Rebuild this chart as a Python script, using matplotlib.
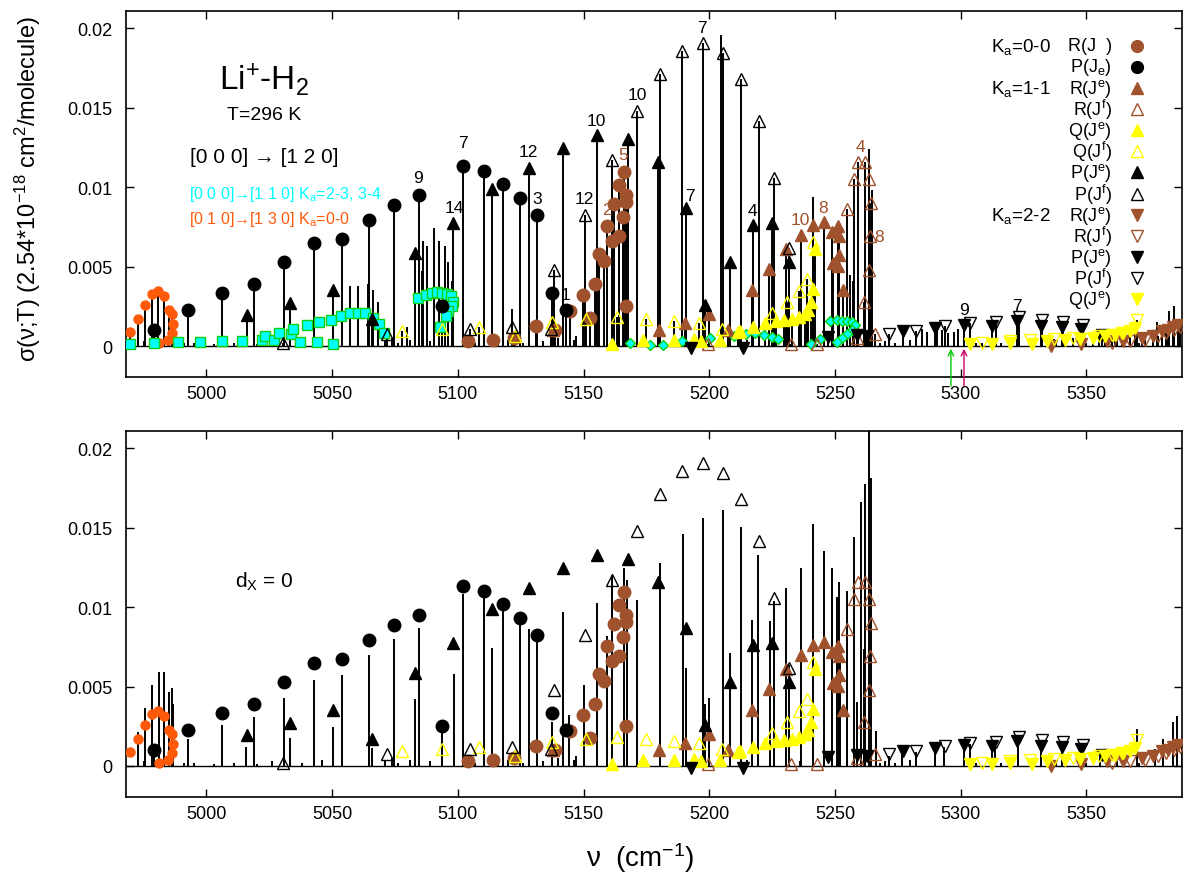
import numpy as np
import matplotlib
matplotlib.use("Agg")
import matplotlib.pyplot as plt

plt.rcParams['font.family'] = ['Liberation Sans', 'DejaVu Sans']
plt.rcParams['mathtext.default'] = 'regular'

BROWN = '#A0522D'
ORANGE = '#FF5A0A'
CYAN = '#00FFFF'
GREEN = '#10D010'
YELLOW = '#FFFF00'

# ---------------- marker series (same in both panels) ----------------
# Ka=0-0
r00_nu = [5103.9, 5113.9, 5122.4, 5131.0, 5138.6, 5144.6, 5149.7, 5152.6, 5154.5, 5156.1,
          5158.2, 5159.4, 5161.4, 5162.2, 5164.1, 5164.2, 5166.1, 5165.6, 5167.0, 5166.9, 5166.9]
r00_sig = [0.0003, 0.0004, 0.0005, 0.00126, 0.00098, 0.00223, 0.00324, 0.00176, 0.0039, 0.00582,
           0.00533, 0.00757, 0.0066, 0.00893, 0.0069, 0.01011, 0.01094, 0.00811, 0.00952, 0.00904, 0.0025]
p00_nu = [4979.2, 4992.8, 5006.2, 5018.8, 5030.9, 5042.6, 5053.9, 5064.5, 5074.7, 5084.4,
          5093.6, 5102.2, 5110.4, 5117.8, 5124.8, 5131.6, 5137.6, 5143.0]
p00_sig = [0.00103, 0.00228, 0.00333, 0.0039, 0.00528, 0.00648, 0.00673, 0.00794, 0.00889, 0.00948,
           0.00253, 0.01134, 0.01099, 0.01021, 0.00931, 0.00822, 0.00333, 0.00225]
# Ka=1-1
r11e_nu = [5122.7, 5138.0, 5180.1, 5190.3, 5200.0, 5207.3, 5216.9, 5223.9, 5230.7, 5236.4,
           5241.4, 5245.6, 5248.9, 5251.1, 5251.5, 5249.1, 5251.6, 5251.3, 5253.3]
r11e_sig = [0.00061, 0.00103, 0.00103, 0.00145, 0.00201, 0.00103, 0.00354, 0.00486, 0.00612, 0.0070,
            0.00763, 0.0078, 0.00717, 0.00753, 0.0069, 0.00522, 0.0057, 0.00501, 0.00354]
r11f_nu = [5199.4, 5232.5, 5243.0, 5254.8, 5257.6, 5259.3, 5262.0, 5263.7, 5264.5, 5263.9,
           5263.6, 5261.6, 5258.6, 5266.1]
r11f_sig = [0.0001, 0.0001, 0.0001, 0.00862, 0.0105, 0.01157, 0.01157, 0.01052, 0.0090, 0.0069,
            0.00478, 0.00274, 0.00053, 0.00074]
q11e_nu = [5161.4, 5173.5, 5186.0, 5194.0, 5196.6, 5204.3, 5211.3, 5212.2, 5217.5, 5222.2,
           5226.5, 5229.9, 5232.9, 5235.5, 5237.9, 5239.3, 5240.4, 5241.4, 5242.1]
q11e_sig = [0.0001, 0.00036, 0.0004, 0.00044, 0.0003, 0.00036, 0.00086, 0.00092, 0.00118, 0.00142,
            0.00155, 0.00164, 0.00173, 0.00184, 0.00201, 0.00228, 0.00275, 0.00359, 0.00613]
q11f_nu = [5077.7, 5093.6, 5108.6, 5122.6, 5137.3, 5151.0, 5163.2, 5174.8, 5186.1, 5195.9,
           5205.2, 5224.8, 5230.9, 5235.6, 5238.9, 5241.1]
q11f_sig = [0.00092, 0.00109, 0.0012, 0.0006, 0.00149, 0.00172, 0.0018, 0.00172, 0.00159, 0.00145,
            0.00109, 0.00208, 0.00276, 0.00344, 0.00423, 0.00658]
p11e_nu = [5016.0, 5033.3, 5050.2, 5065.9, 5082.9, 5098.2, 5113.7, 5128.2, 5141.9, 5155.2,
           5167.8, 5179.7, 5190.6, 5198.3, 5208.3, 5217.2, 5225.0, 5231.8]
p11e_sig = [0.00197, 0.0027, 0.00354, 0.00172, 0.00585, 0.00776, 0.00986, 0.01124, 0.0125, 0.01329,
            0.01302, 0.01157, 0.00868, 0.0026, 0.00526, 0.00761, 0.00774, 0.00528]
p11f_nu = [5030.6, 5071.7, 5105.0, 5121.7, 5137.0, 5138.2, 5150.6, 5161.4, 5171.1, 5180.5,
           5189.2, 5197.6, 5205.3, 5212.6, 5219.7, 5225.8, 5231.8]
p11f_sig = [0.0002, 0.00075, 0.00107, 0.0012, 0.00104, 0.0048, 0.00822, 0.01172, 0.0148, 0.01713,
            0.01857, 0.01906, 0.01843, 0.01681, 0.01417, 0.01061, 0.00616]
# Ka=2-2
r22e_nu = [5335.8, 5347.8, 5358.1, 5364.7, 5372.0, 5376.6, 5380.0, 5382.6, 5384.6, 5386.6]
r22e_sig = [0.0000, 0.0001, 0.0003, 0.0003, 0.0005, 0.00061, 0.00092, 0.00103, 0.00118, 0.00134]
r22f_nu = [5360.3, 5367.4, 5373.4, 5378.6, 5381.8, 5385.0, 5387.4]
r22f_sig = [0.0002, 0.0003, 0.0004, 0.0006, 0.0008, 0.0010, 0.0012]
p22e_nu = [5192.6, 5213.3, 5247.4, 5258.7, 5262.6, 5276.9, 5289.6, 5301.2, 5312.5, 5322.4,
           5331.8, 5340.3, 5347.9, 5356.1]
p22e_sig = [-0.0001, -0.0001, 0.00057, 0.00071, 0.00061, 0.00092, 0.00116, 0.00134, 0.00123, 0.00157,
            0.00124, 0.00121, 0.0011, 0.00071]
p22f_nu = [5271.6, 5282.2, 5293.8, 5303.7, 5313.9, 5323.3, 5332.2, 5340.5, 5348.5]
p22f_sig = [0.00075, 0.00096, 0.00124, 0.00145, 0.00151, 0.0018, 0.00164, 0.00149, 0.00134]
q22e_nu = [5303.7, 5312.3, 5319.6, 5328.3, 5334.2, 5341.5, 5347.5, 5352.8, 5357.4, 5361.4,
           5364.7, 5367.4, 5369.4]
q22e_sig = [0.0001, 0.00013, 0.00019, 0.0001, 0.0003, 0.0004, 0.00044, 0.0005, 0.00061, 0.00071,
            0.00082, 0.00092, 0.00113]
q22f_nu = [5308.4, 5319.6, 5327.6, 5336.9, 5344.8, 5354.8, 5360.1, 5364.1, 5370.1]
q22f_sig = [0.0002, 0.0003, 0.0004, 0.00044, 0.0005, 0.0006, 0.0007, 0.0008, 0.00166]
# [0 1 0]->[1 3 0] Ka=0-0
hot_nu = [4969.6, 4972.6, 4975.5, 4978.2, 4980.8, 4983.2, 4985.2, 4986.4, 4986.8, 4986.3, 4984.6, 4981.1]
hot_sig = [0.00088, 0.0017, 0.0026, 0.0033, 0.00348, 0.00316, 0.00225, 0.002, 0.00138, 0.00082, 0.0004, 0.0002]
# [0 0 0]->[1 1 0] Ka=2-3, 3-4 (top panel only)
b110_sq_nu = [4969.6, 4979.1, 4988.5, 4997.4, 5006.2, 5014.2, 5022.1, 5023.3, 5027.0, 5029.0,
              5033.6, 5034.6, 5037.2, 5040.0, 5043.8, 5044.9, 5049.6, 5050.4, 5053.5, 5057.1,
              5060.4, 5063.1, 5066.4, 5068.7, 5070.6, 5084.3, 5087.3, 5089.6, 5091.6, 5093.6,
              5095.6, 5097.3, 5098.2, 5097.5, 5096.2, 5095.3, 5092.9]
b110_sq_sig = [0.00015, 0.0002, 0.00024, 0.00026, 0.0003, 0.0003, 0.00036, 0.0006, 0.0004, 0.00082,
               0.00075, 0.00108, 0.00027, 0.00131, 0.00024, 0.00149, 0.00165, 0.00013, 0.00186, 0.00211,
               0.00211, 0.00208, 0.00176, 0.00138, 0.00082, 0.00302, 0.00323, 0.00333, 0.00337, 0.00333,
               0.00327, 0.00312, 0.0028, 0.00249, 0.00218, 0.00186, 0.00119]
b110_di_nu = [5168.5, 5176.5, 5181.5, 5189.0, 5200.3, 5209.8, 5214.4, 5218.3, 5221.6, 5225.0,
              5227.5, 5240.3, 5244.1, 5248.0, 5250.7, 5252.7, 5254.7, 5256.7, 5258.0, 5256.7,
              5254.7, 5252.7, 5250.7]
b110_di_sig = [0.0002, 0.00004, 0.00004, 0.00033, 0.0005, 0.00065, 0.00075, 0.00081, 0.00068, 0.00055,
               0.00044, 0.0001, 0.00044, 0.00159, 0.00165, 0.00159, 0.00159, 0.0015, 0.00134, 0.0010,
               0.00075, 0.0005, 0.00025]

# ---------------- stick spectra ----------------
extra_top_nu = [5057.1, 5060.4, 5064.1, 5066.4, 5068.1, 5079.6, 5085.6, 5086.0, 5087.8, 5090.5,
                5092.6, 5094.9, 5096.2, 5097.6, 5121.5, 5204.8, 5241.4, 5256.0, 5257.3, 5263.6,
                5264.6, 5284.5, 5286.5, 5290.5, 5292.5, 5295.0, 5297.5, 5299.0, 5378.0, 5383.0, 5385.0]
extra_top_sig = [0.0038, 0.0038, 0.0039, 0.0035, 0.0028, 0.0012, 0.0047, 0.0066, 0.0063, 0.0074,
                 0.0066, 0.0063, 0.0053, 0.0041, 0.0023, 0.0196, 0.0094, 0.0045, 0.0041, 0.0124,
                 0.0098, 0.0011, 0.0009, 0.0012, 0.0010, 0.0008, 0.0009, 0.0011, 0.0015, 0.0022, 0.0025]
weak_nu = [4975, 4991, 4995, 5003, 5011, 5020, 5026, 5038, 5046, 5071, 5074, 5076, 5081, 5089,
           5107, 5116, 5120, 5126, 5134, 5140, 5146, 5147, 5185, 5193, 5215, 5236, 5268, 5270,
           5274, 5280, 5306, 5316, 5338, 5350, 5362, 5371]
weak_sig = [0.0003, 0.0002, 0.0002, 0.0001, 0.0002, 0.0001, 0.0003, 0.0002, 0.0004, 0.0003, 0.0005, 0.0002,
            0.0004, 0.0003, 0.0002, 0.0003, 0.0004, 0.0002, 0.0003, 0.0005, 0.0004, 0.0006, 0.0003, 0.0002,
            0.0004, 0.0003, 0.0002, 0.0003, 0.0002, 0.0004, 0.0002, 0.0002, 0.0003, 0.0002, 0.0003, 0.0002]
bot_nu = [4972.6, 4975.5, 4978.2, 4979.2, 4981.1, 4983.0, 4985.1, 4986.2, 4986.9, 4992.8,
          5006.2, 5015.8, 5018.8, 5030.9, 5033.3, 5042.6, 5050.4, 5053.9, 5064.5, 5065.8,
          5074.7, 5082.8, 5084.4, 5093.6, 5098.6, 5102.2, 5110.4, 5113.7, 5117.8, 5124.8,
          5128.2, 5131.5, 5137.6, 5141.9, 5144.3, 5150.3, 5155.2, 5159.4, 5161.3, 5166.1,
          5167.2, 5171.1, 5180.4, 5189.4, 5190.6, 5197.4, 5198.3, 5200.0, 5205.3, 5208.3,
          5212.6, 5216.9, 5219.5, 5224.2, 5225.9, 5230.5, 5231.8, 5236.4, 5241.4, 5245.6,
          5248.9, 5250.7, 5251.6, 5252.0, 5254.7, 5257.6, 5258.7, 5260.2, 5262.0, 5263.7,
          5264.3, 5261.7, 5266.3, 5271.6, 5276.8, 5282.2, 5289.8, 5293.4, 5301.3, 5303.7,
          5312.4, 5313.7, 5322.9, 5332.0, 5340.2, 5347.8, 5355.4, 5370.0, 5377.3, 5380.6,
          5384.4, 5386.2, 5388.0]
bot_sig = [0.00216, 0.00364, 0.00511, 0.00118, 0.00591, 0.00591, 0.00465, 0.0049, 0.00391, 0.0017,
           0.00259, 0.00122, 0.00307, 0.00427, 0.00177, 0.00543, 0.00244, 0.00574, 0.00696, 0.00112,
           0.00801, 0.00423, 0.00869, 0.00213, 0.0058, 0.01085, 0.01064, 0.00743, 0.00991, 0.00902,
           0.00864, 0.00791, 0.00276, 0.0097, 0.00318, 0.00507, 0.01028, 0.00818, 0.01201, 0.01249,
           0.01169, 0.01043, 0.01281, 0.01458, 0.00616, 0.01563, 0.00391, 0.00427, 0.01611, 0.00711,
           0.01506, 0.00917, 0.01327, 0.0091, 0.01037, 0.01121, 0.00633, 0.01249, 0.01527, 0.01352,
           0.01247, 0.01064, 0.01159, 0.00717, 0.011, 0.01443, 0.00402, 0.01664, 0.01775, 0.0215,
           0.01815, 0.00738, 0.00223, 0.00065, 0.00097, 0.00086, 0.00118, 0.00118, 0.00128, 0.00139,
           0.00128, 0.00139, 0.0017, 0.00153, 0.00139, 0.00118, 0.00097, 0.00233, 0.00107, 0.0017,
           0.00276, 0.00314, 0.00118]

# ---------------- annotations ----------------
jlab_text = ['9', '7', '14', '12', '3', '1', '12', '10', '10', '7', '7', '4', '9', '7']
jlab_nu = [5084.3, 5102.2, 5098.6, 5128.0, 5131.6, 5143.0, 5150.3, 5155.2, 5171.4, 5197.2,
           5192.3, 5217.3, 5301.4, 5322.5]
jlab_sig = [0.01061, 0.01283, 0.00872, 0.01225, 0.00931, 0.00323, 0.00927, 0.01423, 0.01581, 0.02005,
            0.00945, 0.00851, 0.00228, 0.00253]
blab_text = ['5', '2', '10', '8', '4', '8']
blab_nu = [5165.6, 5159.2, 5236.1, 5245.4, 5260.0, 5267.6]
blab_sig = [0.01203, 0.00862, 0.00799, 0.00874, 0.01256, 0.0069]

legend_ka = ['K$_a$=0-0', '', 'K$_a$=1-1', '', '', '', '', '', 'K$_a$=2-2', '', '', '', '']
legend_txt = ['R(J  )', 'P(J$_e$)', 'R(J$^e$)', 'R(J$^f$)', 'Q(J$^e$)', 'Q(J$^f$)', 'P(J$^e$)',
              'P(J$^f$)', 'R(J$^e$)', 'R(J$^f$)', 'P(J$^e$)', 'P(J$^f$)', 'Q(J$^e$)']

# (nu, sig, marker, face, edge, size, in legend, has stick, in bottom panel)
series = [
    (hot_nu, hot_sig, 'o', ORANGE, ORANGE, 6.5, False, True, True),
    (b110_sq_nu, b110_sq_sig, 's', CYAN, GREEN, 7.5, False, False, False),
    (b110_di_nu, b110_di_sig, 'D', CYAN, GREEN, 5.0, False, False, False),
    (r00_nu, r00_sig, 'o', BROWN, BROWN, 9, True, True, True),
    (p00_nu, p00_sig, 'o', 'black', 'black', 9, True, True, True),
    (r11e_nu, r11e_sig, '^', BROWN, BROWN, 8.5, True, True, True),
    (r11f_nu, r11f_sig, '^', 'none', BROWN, 8.5, True, True, True),
    (q11e_nu, q11e_sig, '^', YELLOW, YELLOW, 8.5, True, True, True),
    (q11f_nu, q11f_sig, '^', 'none', YELLOW, 8.5, True, True, True),
    (p11e_nu, p11e_sig, '^', 'black', 'black', 8.5, True, True, True),
    (p11f_nu, p11f_sig, '^', 'none', 'black', 8.5, True, True, True),
    (r22e_nu, r22e_sig, 'v', BROWN, BROWN, 8.5, True, True, True),
    (r22f_nu, r22f_sig, 'v', 'none', BROWN, 8.5, True, True, True),
    (p22e_nu, p22e_sig, 'v', 'black', 'black', 8.5, True, True, True),
    (p22f_nu, p22f_sig, 'v', 'none', 'black', 8.5, True, True, True),
    (q22e_nu, q22e_sig, 'v', YELLOW, YELLOW, 8.5, True, True, True),
    (q22f_nu, q22f_sig, 'v', 'none', YELLOW, 8.5, False, True, True),
]

top_stick_nu = list(extra_top_nu) + list(weak_nu)
top_stick_sig = list(extra_top_sig) + list(weak_sig)
for s in series:
    if s[7]:
        top_stick_nu += s[0]
        top_stick_sig += s[1]
bot_stick_nu = list(bot_nu) + list(weak_nu)
bot_stick_sig = list(bot_sig) + list(weak_sig)

fig = plt.figure(figsize=(11.84, 8.79), dpi=100)
ax1 = fig.add_axes([0.1064, 0.5700, 0.8919, 0.4164])
ax2 = fig.add_axes([0.1064, 0.0922, 0.8919, 0.4164])


def draw_panel(ax, stick_nu, stick_sig, bottom=False):
    ax.axhline(0, color='black', lw=1.0, zorder=1)
    ax.vlines(stick_nu, 0, stick_sig, color='black', lw=1.4, zorder=1)
    for nu, sig, m, fc, ec, ms, leg, st, inbot in series:
        if bottom and not inbot:
            continue
        ax.plot(nu, sig, ls='none', marker=m, ms=ms, mfc=fc, mec=ec, mew=1.0, zorder=3)
    ax.set_xlim(4968, 5388)
    ax.set_ylim(-0.00195, 0.0211)
    ax.set_xticks([5000, 5050, 5100, 5150, 5200, 5250, 5300, 5350])
    ax.set_yticks([0, 0.005, 0.01, 0.015, 0.02])
    ax.set_yticklabels(['0', '0.005', '0.01', '0.015', '0.02'])
    ax.tick_params(direction='in', length=6, width=1, top=True, right=True,
                   labelsize=13, pad=6)
    ax.tick_params(axis='y', pad=10)
    for sp in ax.spines.values():
        sp.set_linewidth(1.2)


draw_panel(ax1, top_stick_nu, top_stick_sig)
draw_panel(ax2, bot_stick_nu, bot_stick_sig, bottom=True)

# labels on the top panel
for t, x, y in zip(jlab_text, jlab_nu, jlab_sig):
    ax1.text(x, y, t, fontsize=12.5, ha='center', va='center', color='black', zorder=4)
for t, x, y in zip(blab_text, blab_nu, blab_sig):
    ax1.text(x, y, t, fontsize=12.5, ha='center', va='center', color=BROWN, zorder=4)

ax1.text(0.1307, 0.815, 'Li$^{+}$-H$_{2}$', transform=ax1.transAxes, fontsize=24,
         ha='center', va='center')
ax1.text(0.1307, 0.718, 'T=296 K', transform=ax1.transAxes, fontsize=14, ha='center', va='center')
ax1.text(0.1307, 0.601, '[0 0 0] \u2192 [1 2 0]', transform=ax1.transAxes, fontsize=15,
         ha='center', va='center')
ax1.text(0.0597, 0.500, '[0 0 0]\u2192[1 1 0] K$_a$=2-3, 3-4', transform=ax1.transAxes,
         fontsize=11.5, ha='left', va='center', color=CYAN)
ax1.text(0.0597, 0.434, '[0 1 0]\u2192[1 3 0] K$_a$=0-0', transform=ax1.transAxes,
         fontsize=11.5, ha='left', va='center', color=ORANGE)

# arrows below the baseline
ax1.annotate('', xy=(5296.1, 0.0), xytext=(5296.1, -0.0027), annotation_clip=False,
             arrowprops=dict(arrowstyle='->', color='#00CC00', lw=1.0))
ax1.annotate('', xy=(5301.3, 0.0), xytext=(5301.3, -0.0027), annotation_clip=False,
             arrowprops=dict(arrowstyle='->', color='#CC0066', lw=1.0))

# legend (gnuplot style)
leg_series = [s for s in series if s[6]]
for i, (s, ka, txt) in enumerate(zip(leg_series, legend_ka, legend_txt)):
    y = 0.905 - i * 0.0577
    ax1.plot([0.957], [y], transform=ax1.transAxes, ls='none', marker=s[2], ms=8.5,
             mfc=s[3], mec=s[4], mew=1.0, clip_on=False, zorder=5)
    ax1.text(0.9334, y, txt, transform=ax1.transAxes, fontsize=13, ha='right', va='center')
    if ka:
        ax1.text(0.8757, y, ka, transform=ax1.transAxes, fontsize=13.5, ha='right', va='center')

ax2.text(0.1032, 0.59, 'd$_X$ = 0', transform=ax2.transAxes, fontsize=15, ha='left', va='center')

fig.text(28 / 1184, 1 - 189 / 879, '\u03c3(\u03bd;T) (2.54*10$^{-18}$ cm$^{2}$/molecule)',
         rotation=90, ha='center', va='center', fontsize=17)
fig.text(640 / 1184, 1 - 858 / 879, '\u03bd  (cm$^{-1}$)', ha='center', va='center', fontsize=20)

fig.savefig('out.png', dpi=100)
